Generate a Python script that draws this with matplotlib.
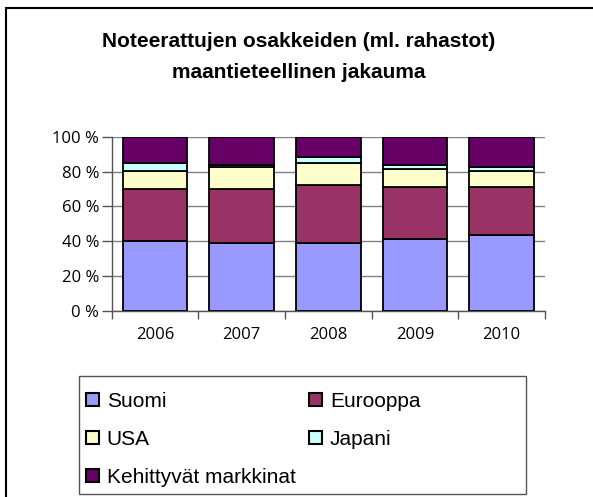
import matplotlib
matplotlib.use("Agg")
import matplotlib.pyplot as plt
import numpy as np
from matplotlib.patches import Rectangle, Patch

years = ["2006", "2007", "2008", "2009", "2010"]
suomi = [40.0, 39.1, 39.1, 41.2, 43.5]
eurooppa = [30.1, 31.0, 33.3, 30.1, 27.8]
usa = [10.4, 12.7, 12.7, 10.3, 9.0]
japani = [4.6, 0.9, 3.2, 1.9, 2.1]
kehitt = [14.9, 16.3, 11.7, 16.5, 17.6]

series = [suomi, eurooppa, usa, japani, kehitt]
names = ["Suomi", "Eurooppa", "USA", "Japani", "Kehittyvät markkinat"]
colors = ["#9999FF", "#993366", "#FFFFCC", "#CCFFFF", "#660066"]
yticklabels = ["0 %", "20 %", "40 %", "60 %", "80 %", "100 %"]
title_lines = ["Noteerattujen osakkeiden (ml. rahastot)", "maantieteellinen jakauma"]

W, H = 593, 497
fig = plt.figure(figsize=(W / 100, H / 100), dpi=100)

ax = fig.add_axes([111.7 / W, 1 - 310.7 / H, (545 - 111.7) / W, (310.7 - 136.7) / H])
x = np.arange(len(years))
bottom = np.zeros(len(years))
for vals, c, n in zip(series, colors, names):
    ax.bar(x, vals, 0.745, bottom=bottom, color=c, edgecolor="black", linewidth=1.3, label=n, zorder=3)
    bottom += np.array(vals)

ax.set_xlim(-0.5, len(years) - 0.5)
ax.set_ylim(0, 100)
ax.set_yticks(np.arange(0, 101, 20))
ax.set_yticklabels(yticklabels, family="Open Sans", fontsize=12)
ax.set_xticks(x)
ax.set_xticklabels(years, family="Open Sans", fontsize=12)
ax.tick_params(axis="x", which="major", length=0, pad=12)
ax.set_xticks(np.arange(-0.5, len(years), 1.0), minor=True)
ax.tick_params(axis="x", which="minor", length=6, width=1, color="#555555", direction="out")
ax.tick_params(axis="y", length=7, width=1, color="#555555", pad=2)
ax.yaxis.grid(True, color="#808080", linewidth=1, zorder=0)
ax.set_axisbelow(True)
for s in ["top", "right"]:
    ax.spines[s].set_visible(False)
for s in ["left", "bottom"]:
    ax.spines[s].set_color("#555555")
    ax.spines[s].set_linewidth(1)

for line, base in zip(title_lines, [47.3, 78.0]):
    fig.text(0.503, 1 - base / H, line, ha="center", va="baseline",
             family="Liberation Sans", fontweight="bold", fontsize=15)

# outer chart border
fig.patches.append(Rectangle((6 / W, -0.2), 1.5, 1.2 - 8 / H, transform=fig.transFigure,
                             fill=False, edgecolor="black", linewidth=1.5))
# legend frame
fig.patches.append(Rectangle((79 / W, 1 - 494 / H), (526 - 79) / W, (494 - 376) / H,
                             transform=fig.transFigure, fill=False, edgecolor="#555555", linewidth=1))

handles = [Patch(facecolor=c, edgecolor="black", linewidth=1.5) for c in colors]
order = [0, 2, 4, 1, 3]
fig.legend([handles[i] for i in order], [names[i] for i in order], ncol=2,
           loc="upper left", bbox_to_anchor=(86 / W, 1 - 392 / H), frameon=False,
           borderpad=0, borderaxespad=0, handlelength=0.62, handleheight=0.62,
           handletextpad=0.37, columnspacing=0.67, labelspacing=0.91,
           prop={"family": "Liberation Sans", "size": 15})

fig.savefig("out.png", dpi=100)
